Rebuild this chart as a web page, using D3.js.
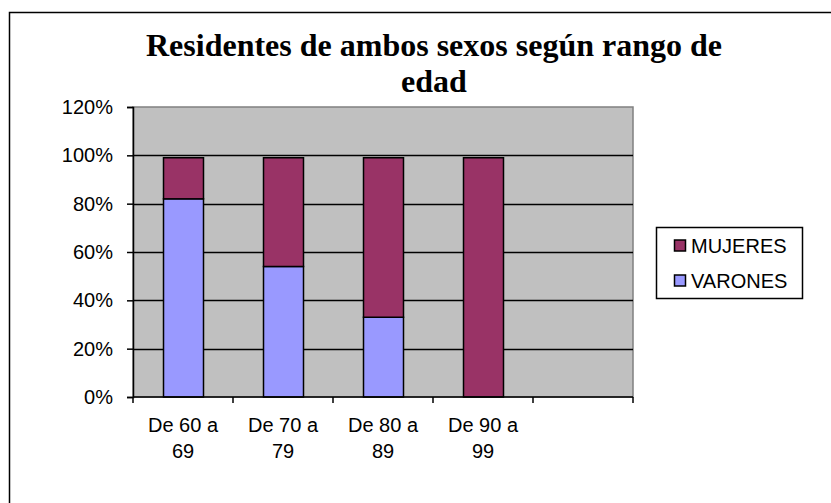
<!DOCTYPE html>
<html>
<head>
<meta charset="utf-8">
<script src="https://cdn.jsdelivr.net/npm/d3@7"></script>
<style>
  html, body { margin: 0; padding: 0; background: #fff; }
  svg { display: block; }
</style>
</head>
<body>
<svg id="chart" width="831" height="503"></svg>
<script>
const categories = ["De 60 a 69", "De 70 a 79", "De 80 a 89", "De 90 a 99", ""];
const categoryLines = [["De 60 a", "69"], ["De 70 a", "79"], ["De 80 a", "89"], ["De 90 a", "99"], []];
const varones = [82, 54, 33, 0, 0];
const mujeres = [17, 45, 66, 99, 0];
const seriesNames = ["VARONES", "MUJERES"];
const yTicks = [0, 20, 40, 60, 80, 100, 120];
const titleLines = ["Residentes de ambos sexos según rango de", "edad"];

const colors = { VARONES: "#9999FF", MUJERES: "#993366" };

const svg = d3.select("#chart");

// outer chart border
svg.append("rect").attr("x", 9.5).attr("y", 12.5).attr("width", 900).attr("height", 600)
  .attr("fill", "none").attr("stroke", "#000").attr("stroke-width", 1.5);

const plot = { left: 133, right: 633, top: 107, bottom: 397 };

const x = d3.scaleBand().domain(categories.map((c, i) => i))
  .range([plot.left, plot.right]).paddingInner(0.6).paddingOuter(0.3);
const y = d3.scaleLinear().domain([0, 120]).range([plot.bottom, plot.top]);

// plot background
svg.append("rect").attr("x", plot.left).attr("y", plot.top)
  .attr("width", plot.right - plot.left).attr("height", plot.bottom - plot.top)
  .attr("fill", "#C0C0C0").attr("stroke", "#808080").attr("stroke-width", 1.5);

// gridlines
svg.append("g").selectAll("line").data(yTicks.filter(t => t > 0 && t < 120)).join("line")
  .attr("x1", plot.left).attr("x2", plot.right)
  .attr("y1", d => Math.round(y(d)) + 0.5).attr("y2", d => Math.round(y(d)) + 0.5)
  .attr("stroke", "#000").attr("stroke-width", 1.5);

// stacked data
const rows = categories.map((c, i) => ({ i, VARONES: varones[i], MUJERES: mujeres[i] }));
const stack = d3.stack().keys(seriesNames)(rows);

svg.append("g").selectAll("g").data(stack).join("g")
  .attr("fill", d => colors[d.key])
  .selectAll("rect").data(d => d.filter(p => p[1] - p[0] > 0)).join("rect")
  .attr("x", d => x(d.data.i) + 0.5)
  .attr("width", x.bandwidth())
  .attr("y", d => y(d[1]))
  .attr("height", d => y(d[0]) - y(d[1]))
  .attr("stroke", "#000").attr("stroke-width", 1.5);

// y axis
const yAxis = d3.axisLeft(y).tickValues(yTicks).tickFormat(d => d + "%").tickSize(6).tickPadding(14);
const gy = svg.append("g").attr("transform", `translate(${plot.left},0)`).call(yAxis);
gy.select(".domain").attr("stroke", "#000").attr("stroke-width", 1.5);
gy.selectAll(".tick line").attr("stroke", "#000").attr("stroke-width", 1.5);
gy.selectAll(".tick text").attr("font-family", "Liberation Sans, Arial, sans-serif")
  .attr("font-size", 20).attr("fill", "#000");

// x axis line
svg.append("line").attr("x1", plot.left).attr("x2", plot.right)
  .attr("y1", plot.bottom).attr("y2", plot.bottom)
  .attr("stroke", "#000").attr("stroke-width", 1.5);
// x ticks at category boundaries
const step = x.step();
const boundaries = d3.range(categories.length + 1).map(k => plot.left + k * step);
svg.append("g").selectAll("line").data(boundaries).join("line")
  .attr("x1", d => d).attr("x2", d => d)
  .attr("y1", plot.bottom).attr("y2", plot.bottom + 6)
  .attr("stroke", "#000").attr("stroke-width", 1.5);

// x labels
const xl = svg.append("g").attr("font-family", "Liberation Sans, Arial, sans-serif")
  .attr("font-size", 20).attr("fill", "#000").attr("text-anchor", "middle");
categoryLines.forEach((lines, i) => {
  const cx = x(i) + x.bandwidth() / 2;
  lines.forEach((t, j) => {
    xl.append("text").attr("x", cx).attr("y", 432 + j * 26).text(t);
  });
});

// title
const tt = svg.append("g").attr("font-family", "Liberation Serif, Times New Roman, serif")
  .attr("font-weight", "bold").attr("font-size", 32).attr("fill", "#000").attr("text-anchor", "middle");
titleLines.forEach((t, j) => {
  tt.append("text").attr("x", 434).attr("y", 56 + j * 36).text(t);
});

// legend
const lg = svg.append("g");
lg.append("rect").attr("x", 656.5).attr("y", 227.5).attr("width", 146).attr("height", 71)
  .attr("fill", "#fff").attr("stroke", "#000").attr("stroke-width", 1.5);
const legendItems = ["MUJERES", "VARONES"];
legendItems.forEach((k, j) => {
  const yy = 240 + j * 35;
  lg.append("rect").attr("x", 674.5).attr("y", yy).attr("width", 11).attr("height", 11)
    .attr("fill", colors[k]).attr("stroke", "#000").attr("stroke-width", 1.5);
  lg.append("text").attr("x", 691).attr("y", yy + 13).text(k)
    .attr("font-family", "Liberation Sans, Arial, sans-serif").attr("font-size", 20).attr("fill", "#000");
});
</script>
</body>
</html>
